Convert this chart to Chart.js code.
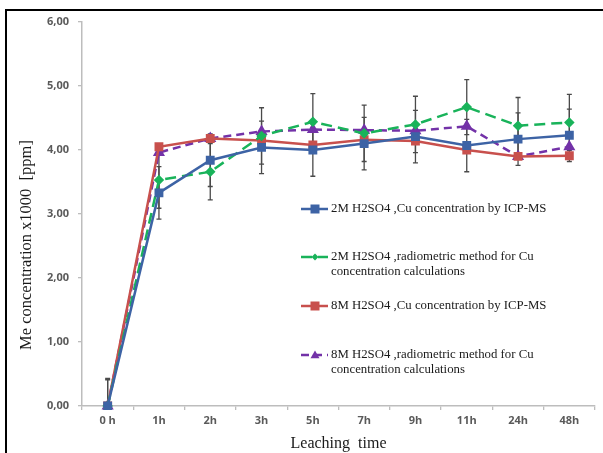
<!DOCTYPE html>
<html>
<head>
<meta charset="utf-8">
<script src="https://cdn.jsdelivr.net/npm/chart.js@4.4.1/dist/chart.umd.min.js"></script>
<style>
  html, body { margin: 0; padding: 0; background: #fff; overflow: hidden; }
  #wrap { position: relative; width: 603px; height: 453px; overflow: hidden; }
  #frame { position: absolute; left: 5px; top: 9px; width: 700px; height: 600px; border: 2px solid #000; }
  canvas { position: absolute; left: 0; top: 0; }
</style>
</head>
<body>
<div id="wrap">
  <div id="frame"></div>
  <canvas id="chart" width="603" height="453"></canvas>
</div>
<script>
const labels = ['0 h', '1h', '2h', '3h', '5h', '7h', '9h', '11h', '24h', '48h'];

const cu2mIcp = [0, 3.33, 3.84, 4.04, 4.00, 4.10, 4.21, 4.07, 4.17, 4.23];
const cu2mRadio = [0, 3.53, 3.66, 4.22, 4.44, 4.26, 4.40, 4.67, 4.38, 4.43];
const cu8mIcp = [0, 4.05, 4.18, 4.15, 4.08, 4.16, 4.14, 4.00, 3.90, 3.91];
const cu8mRadio = [0, 3.96, 4.18, 4.29, 4.32, 4.31, 4.30, 4.37, 3.90, 4.05];

const err2mIcp = [0.41, 0.41, 0.41, 0.41, 0.41, 0.41, 0.41, 0.41, 0.41, 0.41];
const err2mRadio = [0.43, 0.44, 0.44, 0.44, 0.44, 0.44, 0.44, 0.43, 0.44, 0.44];

const seriesNames = [
  ['2M H2SO4 ,Cu concentration by ICP-MS'],
  ['2M H2SO4 ,radiometric method for Cu', 'concentration calculations'],
  ['8M H2SO4 ,Cu concentration by ICP-MS'],
  ['8M H2SO4 ,radiometric method for Cu', 'concentration calculations']
];

const yTitle = 'Me concentration x1000  [ppm]';
const xTitle = 'Leaching  time';

const BLUE = '#3d63a5', GREEN = '#19b35a', RED = '#c8504d', PURPLE = '#7332a8';

// error bars drawn behind the lines
const errorBars = {
  id: 'errorBars',
  beforeDatasetsDraw(chart) {
    const { ctx, chartArea, scales: { x, y } } = chart;
    ctx.save();
    ctx.beginPath();
    ctx.rect(chartArea.left, chartArea.top, chartArea.width, chartArea.height);
    ctx.clip();
    ctx.strokeStyle = '#4a4a4a';
    ctx.lineWidth = 1.3;
    chart.data.datasets.forEach(ds => {
      if (!ds.errors) return;
      ds.data.forEach((v, i) => {
        const px = x.getPixelForValue(i);
        const top = y.getPixelForValue(v + ds.errors[i]);
        const bot = y.getPixelForValue(v - ds.errors[i]);
        ctx.beginPath();
        ctx.moveTo(px, top); ctx.lineTo(px, bot);
        ctx.moveTo(px - 2.5, top); ctx.lineTo(px + 2.5, top);
        ctx.moveTo(px - 2.5, bot); ctx.lineTo(px + 2.5, bot);
        ctx.stroke();
      });
    });
    ctx.restore();
  }
};

// legend inside the plot + rotated y title
const sideLegend = {
  id: 'sideLegend',
  afterDraw(chart) {
    const { ctx } = chart;
    const rows = [209, 257, 306, 355];
    ctx.save();
    chart.data.datasets.forEach((ds, i) => {
      const yc = rows[i];
      ctx.strokeStyle = ds.borderColor;
      ctx.lineWidth = 2.5;
      ctx.setLineDash(ds.borderDash || []);
      ctx.beginPath();
      ctx.moveTo(301, yc); ctx.lineTo(328, yc);
      ctx.stroke();
      ctx.setLineDash([]);
      ctx.fillStyle = ds.pointBackgroundColor;
      const r = ds.pointRadius;
      const mx = 315;
      ctx.beginPath();
      if (ds.pointStyle === 'rect') {
        ctx.rect(mx - r, yc - r, 2 * r, 2 * r);
      } else if (ds.pointStyle === 'rectRot') {
        ctx.moveTo(mx, yc - r); ctx.lineTo(mx + r, yc); ctx.lineTo(mx, yc + r); ctx.lineTo(mx - r, yc);
      } else {
        ctx.moveTo(mx, yc - r); ctx.lineTo(mx + r, yc + r * 0.7); ctx.lineTo(mx - r, yc + r * 0.7);
      }
      ctx.closePath();
      ctx.fill();
      ctx.fillStyle = '#1a1a1a';
      ctx.font = '12.8px "Liberation Serif"';
      ctx.textBaseline = 'middle';
      seriesNames[i].forEach((t, k) => ctx.fillText(t, 331, yc + k * 15));
    });
    ctx.translate(27, 245);
    ctx.rotate(-Math.PI / 2);
    ctx.textAlign = 'center';
    ctx.textBaseline = 'middle';
    ctx.font = '16.5px "Liberation Serif"';
    ctx.fillStyle = '#1a1a1a';
    ctx.fillText(yTitle, 0, 0);
    ctx.restore();
  }
};

const line = (data, color, style, radius, dash, errors) => ({
  data,
  borderColor: color,
  backgroundColor: color,
  pointBackgroundColor: color,
  pointBorderColor: color,
  pointStyle: style,
  pointRadius: radius,
  borderWidth: 2.5,
  borderDash: dash,
  tension: 0,
  errors,
  clip: 4
});

const tickFont = { family: 'Open Sans', size: 11, weight: '700' };

new Chart(document.getElementById('chart'), {
  type: 'line',
  data: {
    labels,
    datasets: [
      line(cu2mIcp, BLUE, 'rect', 4.5, [], err2mIcp),
      line(cu2mRadio, GREEN, 'rectRot', 3.5, [11, 6], err2mRadio),
      line(cu8mIcp, RED, 'rect', 4.5, []),
      line(cu8mRadio, PURPLE, 'triangle', 4.5, [8, 5])
    ]
  },
  plugins: [errorBars, sideLegend],
  options: {
    responsive: false,
    animation: false,
    layout: { padding: { top: 22, right: 8, left: 0, bottom: 0 } },
    plugins: { legend: { display: false }, tooltip: { enabled: false } },
    scales: {
      x: {
        offset: true,
        afterFit: s => { s.height = 47; },
        grid: { drawOnChartArea: false, offset: true, tickLength: 4, color: '#bdbdbd', lineWidth: 1.3 },
        border: { color: '#bdbdbd', width: 1.5 },
        ticks: { color: '#5a5a5a', font: tickFont, padding: 4, maxRotation: 0 },
        title: { display: true, text: xTitle, color: '#1a1a1a', font: { family: 'Liberation Serif', size: 16 }, padding: { top: 0, bottom: 0 } }
      },
      y: {
        min: 0,
        max: 6,
        afterFit: s => { s.width = 82; },
        grid: { drawOnChartArea: false, tickLength: 4, color: '#bdbdbd', lineWidth: 1.3 },
        border: { color: '#bdbdbd', width: 1.5 },
        ticks: {
          stepSize: 1,
          color: '#5a5a5a',
          padding: 9,
          font: tickFont,
          callback: v => v.toFixed(2).replace('.', ',')
        }
      }
    }
  }
});
</script>
</body>
</html>
